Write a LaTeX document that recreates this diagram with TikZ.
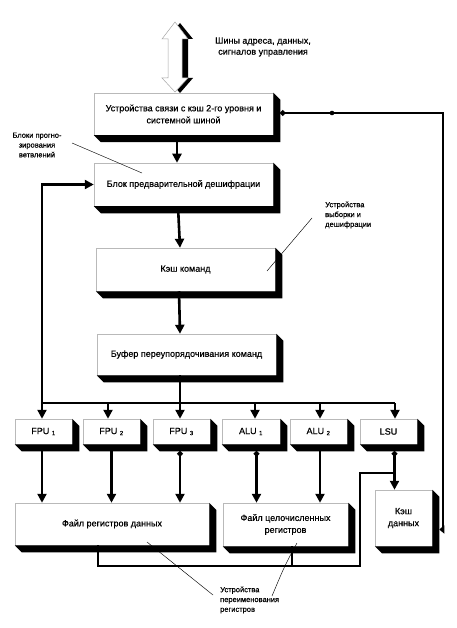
\documentclass[tikz,border=0pt]{standalone}
\usepackage{fontspec}
\setmainfont{Liberation Sans}[FakeBold=0.5]
\usetikzlibrary{arrows.meta,calc}
\newcommand\mkblk[6]{\node[box, minimum width={(#4-#2)*1pt}, minimum height={(#5-#3)*1pt}] (#1) at ({(#2+#4)/2},{(#3+#5)/2}) {#6};}
\newcommand\mkshadow[2][7]{\fill[black] (#2.north east) -- ++(#1,#1) -- ($(#2.south east)+(#1,#1)$) -- ($(#2.south west)+(#1,#1)$) -- (#2.south west) -- (#2.south east) -- cycle;}
\begin{document}
\begin{tikzpicture}[x=1pt,y=-1pt,
  box/.style={draw=gray!55, line width=0.5pt, fill=white, align=center, inner sep=0pt, font=\fontsize{9}{12}\selectfont},
  conn/.style={line width=2.6pt, -{Triangle[length=9pt,width=9pt]}},
  dconn/.style={line width=2.6pt, {Circle[length=5pt]}-{Triangle[length=9pt,width=9pt]}},
  plain/.style={line width=2.6pt},
  rn/.style={line width=1.6pt},
  leader/.style={line width=0.45pt},
  lbl/.style={font=\fontsize{7.5}{9.8}\selectfont, inner sep=0pt},
  bigl/.style={font=\fontsize{9}{11}\selectfont, inner sep=0pt, align=center}
]
\useasboundingbox (0,0) rectangle (456,628);

% double arrow (system bus)
\fill[black] (180,23) -- (193,39) -- (188,39) -- (188,78) -- (193,78) -- (180,93) -- (167,78) -- (173,78) -- (173,39) -- (167,39) -- cycle;
\filldraw[fill=white, draw=gray!70, line width=0.5pt] (175,22) -- (188,39) -- (182,39) -- (182,78) -- (188,78) -- (175,92) -- (162,78) -- (168,78) -- (168,39) -- (162,39) -- cycle;
\node[bigl] (bus) at (263,47) {Шины адреса, данных,\\сигналов управления};

% blocks
\mkblk{b1}{94}{93}{273}{135}{Устройства связи с кэш 2-го уровня и\\системной шиной}
\mkblk{b2}{94}{163}{273}{206}{Блок предварительной дешифрации}
\mkblk{b3}{96}{248}{275}{291}{Кэш команд}
\mkblk{b4}{97}{334}{276}{375}{Буфер переупорядочивания команд}
\mkblk{f1}{15}{419}{72}{444}{FPU \textsubscript{1}}
\mkblk{f2}{83}{419}{140}{444}{FPU \textsubscript{2}}
\mkblk{f3}{153}{419}{210}{444}{FPU \textsubscript{3}}
\mkblk{a1}{222}{419}{280}{444}{ALU \textsubscript{1}}
\mkblk{a2}{290}{419}{347}{444}{ALU \textsubscript{2}}
\mkblk{lsu}{360}{419}{417}{444}{LSU}
\mkblk{rf1}{15}{503}{209}{545}{Файл регистров данных}
\mkblk{rf2}{223}{503}{348}{546}{Файл целочисленных\\регистров}
\mkblk{dc}{375}{490}{432}{546}{Кэш\\данных}
\foreach \n in {b1,b2,b3,b4,f1,f2,f3,a1,a2,lsu,rf1,rf2,dc} {\mkshadow{\n}}

% labels
\node[lbl, align=center] (lblA) at (37,145) {Блоки прогно-\\зирования\\ветвлений};
\node[lbl, align=left, anchor=west] (lblB) at (325,215) {Устройства\\выборки и\\дешифрации};
\node[lbl, align=left, anchor=west] (lblC) at (220,600) {Устройства\\переименования\\регистров};

% vertical main flow
\draw[conn] ([xshift=-6.5pt]b1.south) -- ([xshift=-6.5pt]b2.north);
\draw[conn] ([xshift=-5.5pt]b2.south) -- ([xshift=-5.5pt]b3.north);
\draw[conn] ([xshift=-6.5pt]b3.south) -- ([xshift=-6.5pt]b4.north);
\coordinate (busy) at (180,403);
\draw[plain] ([xshift=-6.5pt]b4.south) -- ([xshift=-6.5pt]b4.south |- busy);
% feedback to predecode
\draw[line width=2.6pt, {Triangle[length=9pt,width=9pt]}-{Triangle[length=9pt,width=9pt]}] (b2.west) -| ([xshift=-1.5pt]f1.north);
% dispatch bus
\draw[plain] ([xshift=-1.5pt]f1.north |- busy) -- ([xshift=6.5pt]lsu.north |- busy);
\foreach \n/\s in {f2/-3.5,f3/-1.5,a1/4,a2/1.5,lsu/6.5}
  \draw[conn] ([xshift=\s pt]\n.north |- busy) -- ([xshift=\s pt]\n.north);
% to register files
\draw[conn] ([xshift=-1.5pt,yshift=-7pt]f1.south) -- ([xshift=-1.5pt]f1.south |- rf1.north);
\draw[conn] ([yshift=-7pt]f2.south) -- (f2.south |- rf1.north);
\draw[dconn] ([xshift=-1.5pt,yshift=-7pt]f3.south) -- ([xshift=-1.5pt]f3.south |- rf1.north);
\draw[dconn] ([xshift=5.5pt,yshift=-7pt]a1.south) -- ([xshift=5.5pt]a1.south |- rf2.north);
\draw[conn] ([xshift=1.5pt,yshift=-7pt]a2.south) -- ([xshift=1.5pt]a2.south |- rf2.north);
\coordinate (lsuX) at ([xshift=6pt]lsu.south);
\draw[dconn] ([yshift=-7pt]lsuX) -- (lsuX |- dc.north);
% right-hand line from bus interface to data cache
\coordinate (rc) at (443,113);
\coordinate (dcin) at ([xshift=7pt,yshift=-11.5pt]dc.east);
\draw[line width=2.6pt, {Circle[length=5pt]}-{Triangle[length=5pt,width=8pt]}] ([xshift=7pt,yshift=1pt]b1.east) -- (rc) |- (dcin);
\fill (332,113) circle[radius=2.3pt];
% renaming connections
\coordinate (rnc) at (360,566);
\coordinate (rnt) at (360,473);
\draw[rn] ([xshift=-14pt]rf1.south) |- (rnc) -- (rnt) -- (rnt -| lsuX);
\draw[rn] ([xshift=6.5pt]rf2.south) -- ([xshift=6.5pt]rf2.south |- rnc);
% leader lines
\draw[leader] (72,143) -- (142,173);
\draw[leader] (267,271) -- (312,218);
\draw[leader] (147,542) -- (213,595);
\draw[leader] (297,543) .. controls (285,565) .. (272,596);
\end{tikzpicture}
\end{document}
